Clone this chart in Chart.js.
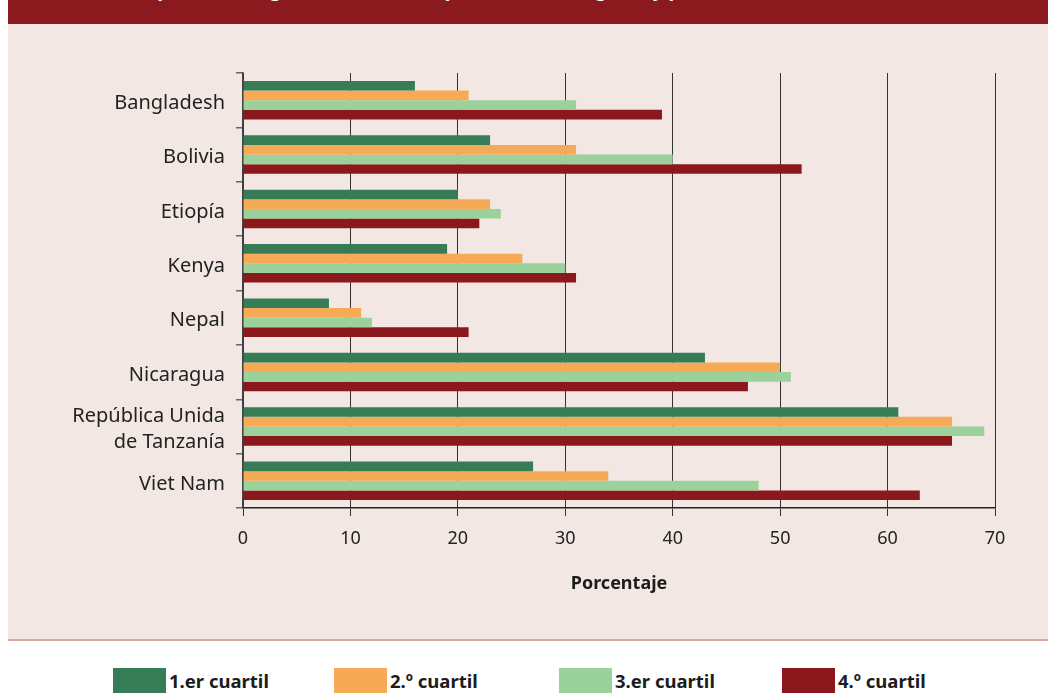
<!DOCTYPE html>
<html lang="es">
<head>
<meta charset="utf-8">
<script src="https://cdn.jsdelivr.net/npm/chart.js@4/dist/chart.umd.min.js"></script>
<style>
  html, body { margin: 0; padding: 0; background: #fff; }
  body { width: 1048px; height: 693px; position: relative; overflow: hidden; font-family: "Noto Sans", sans-serif; }
  #header { position: absolute; left: 8px; top: 0; width: 1040px; height: 24px; background: #8b1a1e; overflow: hidden; }
  #header span { position: absolute; left: 60px; top: -24px; color: #fff; font-weight: bold; font-size: 19px; white-space: nowrap; }
  #panel { position: absolute; left: 8px; top: 24px; width: 1040px; height: 615px; background: #f2e7e3; border-bottom: 2px solid #d3aa9d; }
  #wrap { position: absolute; left: 0; top: 0; width: 1048px; height: 640px; }
  .leg { position: absolute; top: 668px; height: 25px; display: flex; align-items: center; }
  .leg i { display: inline-block; width: 53px; height: 25px; }
  .leg b { font-size: 18.5px; color: #1c1c1c; margin-left: 3px; }
</style>
</head>
<body>
<div id="header"><span>Cuota de productos agrícolas vendidos, por cuartil de ingreso y país</span></div>
<div id="panel"></div>
<div id="wrap"><canvas id="chart" width="1048" height="640"></canvas></div>
<div id="legend"></div>

<script>
// Países y porcentajes por cuartil
const paises = [
  "Bangladesh", "Bolivia", "Etiopía", "Kenya", "Nepal", "Nicaragua",
  ["República Unida", "de Tanzanía"], "Viet Nam"
];
const cuartiles = ["1.er cuartil", "2.º cuartil", "3.er cuartil", "4.º cuartil"];
const colores   = ["#367d57", "#f7aa55", "#9bd19a", "#8b181c"];

const cuartil1 = [16, 23, 20, 19,  8, 43, 61, 27];
const cuartil2 = [21, 31, 23, 26, 11, 50, 66, 34];
const cuartil3 = [31, 40, 24, 30, 12, 51, 69, 48];
const cuartil4 = [39, 52, 22, 31, 21, 47, 66, 63];

const ticksX = [0, 10, 20, 30, 40, 50, 60, 70];

const series = [cuartil1, cuartil2, cuartil3, cuartil4];

new Chart(document.getElementById("chart"), {
  type: "bar",
  data: {
    labels: paises,
    datasets: series.map((vals, i) => ({
      label: cuartiles[i],
      data: vals,
      backgroundColor: colores[i],
      borderWidth: 0,
      categoryPercentage: 0.71,
      barPercentage: 1.0
    }))
  },
  options: {
    indexAxis: "y",
    responsive: false,
    animation: false,
    layout: { padding: { top: 73, right: 53, left: 0, bottom: 0 } },
    plugins: {
      legend: { display: false },
      tooltip: { enabled: false }
    },
    scales: {
      x: {
        min: ticksX[0],
        max: ticksX[ticksX.length - 1],
        afterBuildTicks: s => { s.ticks = ticksX.map(v => ({ value: v })); },
        afterFit: s => { s.height = 132; },
        grid: { color: "#333", lineWidth: 1, tickLength: 8 },
        border: { display: true, color: "#222", width: 1.5 },
        ticks: { color: "#222", padding: 12, font: { family: "Noto Sans", size: 18 } },
        title: {
          display: true,
          text: "Porcentaje",
          color: "#1c1c1c",
          font: { family: "Noto Sans", size: 18, weight: "bold" },
          padding: { top: 0, bottom: 45 }
        }
      },
      y: {
        afterFit: s => { s.width = 243; },
        grid: { drawOnChartArea: false, drawTicks: true, tickLength: 7, color: "#666", lineWidth: 1.5 },
        border: { display: true, color: "#444", width: 1.5 },
        ticks: {
          color: "#222",
          padding: 11,
          autoSkip: false,
          labelOffset: 3,
          font: { family: "Noto Sans", size: 20, lineHeight: 1.3 }
        }
      }
    }
  }
});

// Leyenda inferior
const posLeyenda = [113, 334, 559, 782];
document.getElementById("legend").innerHTML = cuartiles.map((c, i) =>
  `<div class="leg" style="left:${posLeyenda[i]}px"><i style="background:${colores[i]}"></i><b>${c}</b></div>`
).join("");
</script>
</body>
</html>
